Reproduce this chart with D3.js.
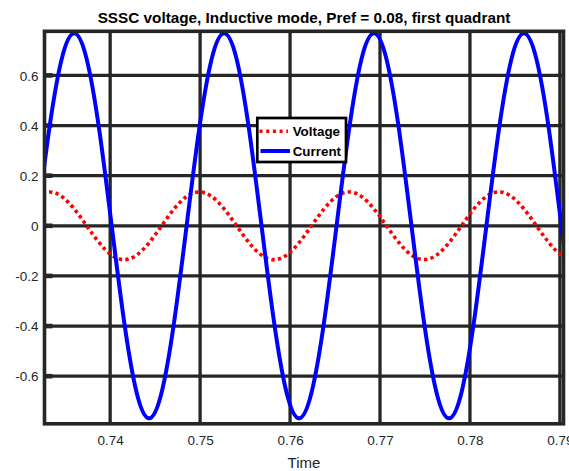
<!DOCTYPE html>
<html><head><meta charset="utf-8">
<script src="https://cdn.jsdelivr.net/npm/d3@7"></script>
<style>html,body{margin:0;padding:0;background:#fff;}svg{display:block;font-family:"Liberation Sans",Arial,sans-serif;}</style>
</head><body>
<div id="chart"></div>
<script>
// ---- data ----
const time = [0.73183,0.73322,0.73461,0.73600,0.73739,0.73878,0.74017,0.74156,0.74294,0.74433,0.74572,0.74711,
              0.74850,0.74989,0.75128,0.75267,0.75406,0.75544,0.75683,0.75822,0.75961,0.76100,0.76239,0.76378,
              0.76517,0.76656,0.76794,0.76933,0.77072,0.77211,0.77350,0.77489,0.77628,0.77767,0.77906,0.78044,
              0.78183,0.78322,0.78461,0.78600,0.78739,0.78878,0.79017,0.79156];
const current = [0,0.384,0.665,0.768,0.665,0.384,0,-0.384,-0.665,-0.768,-0.665,-0.384,
                 0,0.384,0.665,0.768,0.665,0.384,0,-0.384,-0.665,-0.768,-0.665,-0.384,
                 0,0.384,0.665,0.768,0.665,0.384,0,-0.384,-0.665,-0.768,-0.665,-0.384,
                 0,0.384,0.665,0.768,0.665,0.384,0,-0.384];
const voltage = [0.117,0.135,0.117,0.0675,0,-0.0675,-0.117,-0.135,-0.117,-0.0675,0,0.0675,
                 0.117,0.135,0.117,0.0675,0,-0.0675,-0.117,-0.135,-0.117,-0.0675,0,0.0675,
                 0.117,0.135,0.117,0.0675,0,-0.0675,-0.117,-0.135,-0.117,-0.0675,0,0.0675,
                 0.117,0.135,0.117,0.0675,0,-0.0675,-0.117,-0.135];
const xTicks = [0.74,0.75,0.76,0.77,0.78,0.79];
const xTickLabels = ["0.74","0.75","0.76","0.77","0.78","0.79"];
const yTicks = [-0.6,-0.4,-0.2,0,0.2,0.4,0.6];
const yTickLabels = ["-0.6","-0.4","-0.2","0","0.2","0.4","0.6"];
const seriesNames = ["Voltage","Current"];
const titleText = "SSSC voltage, Inductive mode, Pref = 0.08, first quadrant";
const xLabelText = "Time";

// ---- layout ----
const W = 569, H = 471;
const L = 44.5, R = 563.5, T = 31.3, B = 423.8;
const axisColor = "#262626";

const x = d3.scaleLinear().domain([0.7327, 0.7904]).range([L, R]);
const y = d3.scaleLinear().domain([-0.79, 0.776]).range([B, T]);

const svg = d3.select("#chart").append("svg").attr("width", W).attr("height", H);
svg.append("rect").attr("width", W).attr("height", H).attr("fill", "#fff");

svg.append("defs").append("clipPath").attr("id","clip")
  .append("rect").attr("x", L).attr("y", T).attr("width", R-L).attr("height", B-T);

// grid
const grid = svg.append("g");
grid.selectAll("line.gx").data(xTicks).join("line")
  .attr("x1", d => x(d)).attr("x2", d => x(d)).attr("y1", T).attr("y2", B)
  .attr("stroke", axisColor).attr("stroke-width", 3.3);
grid.selectAll("line.gy").data(yTicks).join("line")
  .attr("y1", d => y(d)).attr("y2", d => y(d)).attr("x1", L).attr("x2", R)
  .attr("stroke", axisColor).attr("stroke-width", 3.3);
// inward tick marks (left)
grid.selectAll("line.ty").data(yTicks).join("line")
  .attr("y1", d => y(d)).attr("y2", d => y(d)).attr("x1", L).attr("x2", L+8)
  .attr("stroke", axisColor).attr("stroke-width", 4.6);

// data lines
const plot = svg.append("g").attr("clip-path", "url(#clip)");
const line = (vals) => d3.line().x((d,i) => x(time[i])).y(d => y(d)).curve(d3.curveNatural)(vals);
plot.append("path").attr("d", line(voltage)).attr("fill","none")
  .attr("stroke","#ff0000").attr("stroke-width",3.6).attr("stroke-dasharray","3.4,3.2");
plot.append("path").attr("d", line(current)).attr("fill","none")
  .attr("stroke","#0000ff").attr("stroke-width",4);

// box
svg.append("rect").attr("x", L).attr("y", T).attr("width", R-L).attr("height", B-T)
  .attr("fill","none").attr("stroke", axisColor).attr("stroke-width", 3.6);

// axes labels
const xAxis = svg.append("g").attr("transform", `translate(0,${B})`)
  .call(d3.axisBottom(x).tickValues(xTicks).tickSize(0).tickPadding(0)
        .tickFormat((d,i) => xTickLabels[i]));
xAxis.select(".domain").remove();
xAxis.selectAll("text").attr("y", 21.2).attr("dy", null)
  .attr("font-size", "13.5px").attr("fill", axisColor)
  .attr("font-family", '"Liberation Sans",Arial,sans-serif');

const yAxis = svg.append("g").attr("transform", `translate(${L},0)`)
  .call(d3.axisLeft(y).tickValues(yTicks).tickSize(0).tickPadding(6)
        .tickFormat((d,i) => yTickLabels[i]));
yAxis.select(".domain").remove();
yAxis.selectAll("text").attr("dy", "0.35em")
  .attr("font-size", "13.5px").attr("fill", axisColor)
  .attr("font-family", '"Liberation Sans",Arial,sans-serif');

// title and x label
svg.append("text").attr("x", (L+R)/2).attr("y", 23.4).attr("text-anchor","middle")
  .attr("font-size","15.3px").attr("font-weight","bold").attr("fill","#000").text(titleText);
svg.append("text").attr("x", (L+R)/2).attr("y", 467.5).attr("text-anchor","middle")
  .attr("font-size","15px").attr("fill", axisColor).text(xLabelText);

// legend
const lg = svg.append("g");
lg.append("rect").attr("x", 257.3).attr("y", 118).attr("width", 88.7).attr("height", 44)
  .attr("fill","#fff").attr("stroke","#000").attr("stroke-width",2.7);
lg.append("line").attr("x1", 259.5).attr("x2", 288).attr("y1", 131.3).attr("y2", 131.3)
  .attr("stroke","#ff0000").attr("stroke-width",3.4).attr("stroke-dasharray","3,3.7");
lg.append("line").attr("x1", 260.5).attr("x2", 290).attr("y1", 151).attr("y2", 151)
  .attr("stroke","#0000ff").attr("stroke-width",4);
lg.selectAll("text.lt").data(seriesNames).join("text")
  .attr("x", 292.7).attr("y", (d,i) => 136 + i*20)
  .attr("font-size","13.4px").attr("font-weight","bold").attr("fill","#000")
  .text(d => d);
</script>
</body></html>
